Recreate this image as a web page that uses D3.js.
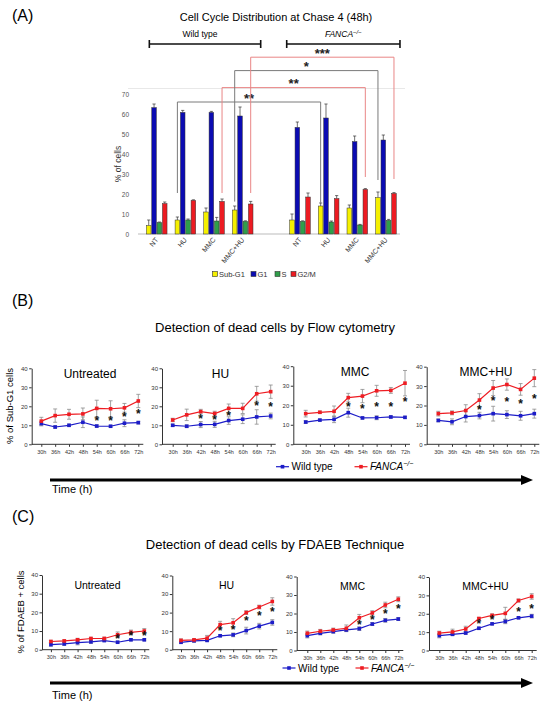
<!DOCTYPE html>
<html><head><meta charset="utf-8">
<script src="https://cdn.jsdelivr.net/npm/d3@7"></script>
<style>
body{margin:0;background:#fff}
svg{display:block;font-family:Arial,"Liberation Sans",Helvetica,sans-serif}
</style>
</head><body>
<svg id="chart" width="550" height="706"></svg>
<script>
// ================= DATA =================
// Panel A: cell cycle distribution (% of cells)
const cycleTreatments = ["NT", "HU", "MMC", "MMC+HU"];
const cyclePhases = ["Sub-G1", "G1", "S", "G2/M"];
const cycleTicks = [0, 10, 20, 30, 40, 50, 60, 70];
const wtSubG1 = [4.2, 7.0, 11.0, 12.0];
const wtSubG1Err = [2.8, 1.5, 2.0, 2.0];
const wtG1 = [63.2, 60.8, 60.8, 59.0];
const wtG1Err = [1.8, 1.0, 0.5, 4.5];
const wtS = [5.7, 7.0, 6.5, 6.3];
const wtSErr = [0.3, 0.5, 1.8, 0.3];
const wtG2M = [15.2, 16.8, 16.3, 15.0];
const wtG2MErr = [0.8, 0.3, 1.2, 1.3];
const faSubG1 = [7.0, 14.0, 13.0, 18.2];
const faSubG1Err = [3.0, 1.5, 1.5, 2.8];
const faG1 = [53.3, 58.0, 46.2, 47.0];
const faG1Err = [2.7, 7.0, 2.8, 2.5];
const faS = [6.3, 6.0, 4.5, 6.8];
const faSErr = [0.3, 0.5, 0.3, 0.5];
const faG2M = [18.5, 17.7, 22.3, 20.3];
const faG2MErr = [2.0, 1.5, 0.4, 0.4];
// significance comparisons (WT vs FANCA-/- same treatment & phase)
const sigLabels = ["**", "**", "*", "***"];
const sigTreatment = [1, 2, 3, 3];
const sigPhase = [0, 3, 0, 3];
const sigTop = [66, 73.2, 81.7, 88.4];
const sigLeftEnd = [20.5, 20.5, 16.2, 20.5];
const sigRightEnd = [15.5, 28.5, 27, 27.5];

// Panels B & C
const timePoints = ["30h", "36h", "42h", "48h", "54h", "60h", "66h", "72h"];
const panelTreatments = ["Untreated", "HU", "MMC", "MMC+HU"];
const lineTicks = [0, 10, 20, 30, 40];

// B: Sub-G1 by flow cytometry  [Untreated, HU, MMC, MMC+HU]
const flowWt = [
  [10.9, 9.1, 10.0, 11.6, 9.6, 9.5, 11.1, 11.4],
  [10.0, 9.5, 10.4, 10.5, 12.5, 13.2, 14.4, 14.9],
  [11.4, 12.4, 12.8, 16.2, 13.5, 13.6, 14.0, 13.8],
  [12.3, 11.6, 14.3, 14.8, 15.8, 15.3, 14.7, 15.8]
];
const flowWtErr = [
  [1.2, 0.6, 0.6, 2.8, 0.6, 0.5, 1.8, 0.7],
  [0.6, 0.7, 1.6, 1.6, 2.0, 2.3, 3.8, 1.5],
  [0.7, 0.5, 1.7, 2.3, 0.5, 1.0, 0.6, 0.5],
  [0.7, 1.5, 2.8, 1.7, 3.8, 2.0, 2.3, 2.3]
];
const flowFa = [
  [12.2, 15.1, 15.8, 16.0, 18.9, 18.7, 19.2, 22.8],
  [12.8, 15.5, 17.2, 16.2, 18.9, 18.9, 26.6, 27.7],
  [15.7, 16.4, 16.9, 23.9, 24.7, 27.4, 27.6, 31.3],
  [15.8, 16.2, 17.4, 22.8, 29.0, 30.8, 28.3, 34.1]
];
const flowFaErr = [
  [2.0, 3.5, 2.6, 3.1, 4.3, 4.2, 2.3, 3.5],
  [0.9, 3.0, 1.2, 1.2, 2.3, 2.7, 3.9, 3.5],
  [1.7, 0.6, 2.7, 2.2, 3.4, 2.8, 1.5, 6.5],
  [1.2, 1.0, 3.0, 3.3, 3.9, 2.9, 3.0, 4.4]
];
const flowStarTimes = [
  ["54h", "60h", "66h", "72h"],
  ["42h", "48h", "54h", "66h", "72h"],
  ["48h", "54h", "60h", "66h", "72h"],
  ["48h", "54h", "60h", "66h", "72h"]
];
const flowStarValues = [
  [13.6, 13.6, 15.8, 17.7],
  [15.1, 14.4, 16.5, 21.6, 21.4],
  [20.8, 19.4, 20.6, 20.6, 23.3],
  [19.3, 23.7, 23.2, 22.3, 25.0]
];

// C: FDAEB+ cells
const fdaebWt = [
  [2.7, 3.1, 3.8, 4.2, 4.9, 4.0, 5.3, 5.3],
  [4.0, 4.8, 5.0, 7.5, 8.0, 10.3, 12.7, 14.7],
  [8.0, 9.3, 10.2, 11.1, 11.8, 14.3, 16.3, 17.0],
  [8.1, 8.8, 9.5, 12.1, 14.5, 15.8, 17.8, 18.7]
];
const fdaebWtErr = [
  [0.8, 0.8, 1.2, 0.8, 0.6, 0.5, 0.5, 0.5],
  [0.6, 0.8, 0.5, 0.5, 1.0, 1.8, 1.5, 1.5],
  [1.2, 0.8, 0.8, 0.6, 1.0, 0.8, 1.0, 0.8],
  [1.2, 0.6, 0.6, 0.6, 0.5, 1.2, 0.5, 1.0]
];
const fdaebFa = [
  [4.4, 4.7, 5.3, 6.0, 6.0, 8.0, 9.3, 10.0],
  [5.0, 5.3, 6.2, 13.5, 14.5, 20.0, 23.0, 26.0],
  [9.3, 10.4, 11.1, 12.0, 17.7, 20.3, 24.6, 27.7],
  [9.5, 10.1, 11.7, 17.4, 19.1, 20.2, 27.2, 29.4]
];
const fdaebFaErr = [
  [0.6, 0.5, 0.8, 0.6, 0.7, 1.5, 1.2, 1.3],
  [0.8, 0.6, 1.5, 1.8, 2.2, 1.0, 1.0, 2.0],
  [1.2, 1.0, 1.0, 1.8, 1.8, 1.2, 1.5, 1.3],
  [1.0, 1.5, 1.5, 0.6, 0.8, 3.3, 0.8, 1.5]
];
const fdaebStarTimes = [
  ["60h", "66h", "72h"],
  ["48h", "54h", "60h", "66h", "72h"],
  ["54h", "60h", "66h", "72h"],
  ["48h", "54h", "66h", "72h"]
];
const fdaebStarValues = [
  [7.2, 8.8, 8.8],
  [11.5, 12.0, 17.0, 19.5, 21.7],
  [15.5, 18.3, 21.6, 23.8],
  [16.3, 18.0, 22.8, 24.4]
];

// ================= DRAWING =================
const svg = d3.select("#chart");
const phaseColors = ["#f5f000", "#0b0bb2", "#2f9e4a", "#ec1b22"];
const BLUE = "#1d1dc8", RED = "#ee1d23", ERR = "#8c8c8c", AX = "#333";

function starY(y, size) { return y + size * 0.58; }

// ---------- Panel A ----------
svg.append("text").attr("x", 12).attr("y", 21).attr("font-size", 16).text("(A)");
svg.append("text").attr("x", 276).attr("y", 21).attr("font-size", 11)
  .attr("text-anchor", "middle").text("Cell Cycle Distribution at Chase 4 (48h)");

const slots = d3.range(9); // 4 WT groups, gap, 4 FANCA groups
const xA = d3.scaleBand().domain(slots).range([142.4, 400.3]);
const xIn = d3.scaleBand().domain(d3.range(4)).range([-10.3, 10.3]).paddingInner(0.14);
const yA = d3.scaleLinear().domain([0, 70]).range([234, 94]);
const slotCenter = s => xA(s) + xA.bandwidth() / 2;
const wtVals = [wtSubG1, wtG1, wtS, wtG2M], wtErrs = [wtSubG1Err, wtG1Err, wtSErr, wtG2MErr];
const faVals = [faSubG1, faG1, faS, faG2M], faErrs = [faSubG1Err, faG1Err, faSErr, faG2MErr];

const bars = [];
[[wtVals, wtErrs, 0], [faVals, faErrs, 5]].forEach(([vals, errs, off]) => {
  cycleTreatments.forEach((t, ti) => {
    cyclePhases.forEach((p, pi) => {
      bars.push({ slot: ti + off, phase: pi, v: vals[pi][ti], e: errs[pi][ti] });
    });
  });
});

// faint frame top line
svg.append("line").attr("x1", 128).attr("x2", 405).attr("y1", 88.5).attr("y2", 88.5)
  .attr("stroke", "#e8e8e8").attr("stroke-width", 1);

// y axis labels
const gyA = svg.append("g").attr("transform", "translate(131,0)")
  .call(d3.axisLeft(yA).tickValues(cycleTicks).tickSize(0).tickPadding(2));
gyA.select(".domain").remove();
gyA.selectAll("text").attr("font-size", 6.5).attr("fill", "#555").attr("font-family", null);
svg.append("text").attr("transform", "translate(121,164) rotate(-90)")
  .attr("text-anchor", "middle").attr("font-size", 8.5).attr("fill", "#333").text("% of cells");

// baseline
svg.append("line").attr("x1", 138).attr("x2", 400).attr("y1", yA(0)).attr("y2", yA(0))
  .attr("stroke", "#aaa").attr("stroke-width", 0.8);

// error bars (upper only)
const gA = svg.append("g");
bars.forEach(b => {
  const cx = slotCenter(b.slot) + xIn(b.phase) + xIn.bandwidth() / 2;
  gA.append("line").attr("x1", cx).attr("x2", cx).attr("y1", yA(b.v)).attr("y2", yA(b.v + b.e))
    .attr("stroke", "#333").attr("stroke-width", 0.7);
  gA.append("line").attr("x1", cx - 1.6).attr("x2", cx + 1.6).attr("y1", yA(b.v + b.e)).attr("y2", yA(b.v + b.e))
    .attr("stroke", "#333").attr("stroke-width", 0.7);
});
gA.selectAll("rect.bar").data(bars).join("rect").attr("class", "bar")
  .attr("x", d => slotCenter(d.slot) + xIn(d.phase))
  .attr("width", xIn.bandwidth())
  .attr("y", d => yA(d.v)).attr("height", d => yA(0) - yA(d.v))
  .attr("fill", d => phaseColors[d.phase]).attr("stroke", "#333").attr("stroke-width", 0.5);

// category labels
slots.forEach(s => {
  const lab = s < 4 ? cycleTreatments[s] : (s > 4 ? cycleTreatments[s - 5] : null);
  if (!lab) return;
  svg.append("text").attr("transform", `translate(${slotCenter(s) + 2},240) rotate(-50)`)
    .attr("text-anchor", "end").attr("font-size", 7).attr("fill", "#333").text(lab);
});

// legend A
const legAX = [212.5, 251, 275, 291];
cyclePhases.forEach((p, i) => {
  svg.append("rect").attr("x", legAX[i]).attr("y", 271.5).attr("width", 5).attr("height", 5)
    .attr("fill", phaseColors[i]).attr("stroke", "#333").attr("stroke-width", 0.6);
  svg.append("text").attr("x", legAX[i] + 6.5).attr("y", 276.8).attr("font-size", 7.5)
    .attr("fill", "#333").text(p);
});

// significance brackets
sigLabels.forEach((lab, i) => {
  const bx = (slot, ph) => slotCenter(slot) + xIn(ph) + xIn.bandwidth() / 2;
  const x1 = bx(sigTreatment[i], sigPhase[i]), x2 = bx(sigTreatment[i] + 5, sigPhase[i]);
  const col = sigPhase[i] === 3 ? "#e98686" : "#7a7a7a";
  svg.append("path")
    .attr("d", `M${x1},${yA(sigLeftEnd[i])}V${yA(sigTop[i])}H${x2}V${yA(sigRightEnd[i])}`)
    .attr("fill", "none").attr("stroke", col).attr("stroke-width", 1);
  svg.append("text").attr("x", (x1 + x2) / 2).attr("y", yA(sigTop[i]) + 0.5)
    .attr("text-anchor", "middle").attr("font-size", 13).attr("font-weight", "bold")
    .attr("fill", "#222").text(lab);
});

// genotype brackets
const grpBr = [
  { x1: slotCenter(0) - 7.4, x2: slotCenter(3) + 18, label: "Wild type", italic: false },
  { x1: slotCenter(5) - 13.3, x2: slotCenter(8) + 14, label: "FANCA", italic: true }
];
grpBr.forEach(b => {
  svg.append("path").attr("d", `M${b.x1},40V48M${b.x1},44H${b.x2}M${b.x2},40V48`)
    .attr("stroke", "#111").attr("stroke-width", 1.6).attr("fill", "none");
  const t = svg.append("text").attr("x", (b.x1 + b.x2) / 2 + (b.italic ? 0 : -5)).attr("y", 37)
    .attr("text-anchor", "middle").attr("font-size", 8.5);
  if (b.italic) {
    t.append("tspan").attr("font-style", "italic").text(b.label);
    t.append("tspan").attr("font-style", "italic").attr("font-size", 6).attr("dy", -3.5).text("\u2212/\u2212");
  } else t.text(b.label);
});

// ---------- Panels B & C ----------
function header(letter, title, yLetter, yTitle) {
  svg.append("text").attr("x", 12).attr("y", yLetter).attr("font-size", 16).text(letter);
  svg.append("text").attr("x", 275).attr("y", yTitle).attr("font-size", 13)
    .attr("text-anchor", "middle").text(title);
}

function subplot(L, wt, wtE, fa, faE, starT, starV, title, titleSize, titleY) {
  const g = svg.append("g");
  const x = d3.scalePoint().domain(timePoints).range([L.x30, L.x72]);
  const y = d3.scaleLinear().domain([0, 40]).range([L.y0, L.y40]);
  const ya = g.append("g").attr("transform", `translate(${L.ax},0)`)
    .call(d3.axisLeft(y).tickValues(lineTicks).tickSize(2.5).tickSizeOuter(0).tickPadding(1.5));
  ya.selectAll("text").attr("font-size", 6).attr("fill", "#333").attr("font-family", null);
  ya.selectAll("line,path").attr("stroke", AX);
  const xa = g.append("g").attr("transform", `translate(0,${L.y0})`)
    .call(d3.axisBottom(x).tickSize(2.5).tickPadding(3));
  xa.select(".domain").remove();
  xa.selectAll("text").attr("font-size", 5.5).attr("fill", "#333").attr("font-family", null);
  xa.selectAll("line").attr("stroke", AX);
  g.append("line").attr("x1", L.ax).attr("x2", L.x72 + 5).attr("y1", L.y0).attr("y2", L.y0)
    .attr("stroke", AX).attr("stroke-width", 1);

  g.append("text").attr("x", L.tx).attr("y", titleY).attr("text-anchor", "middle")
    .attr("font-size", titleSize).text(title);

  [[wt, wtE], [fa, faE]].forEach(([vals, errs]) => {
    vals.forEach((v, i) => {
      const cx = x(timePoints[i]);
      g.append("line").attr("x1", cx).attr("x2", cx).attr("y1", y(v - errs[i])).attr("y2", y(v + errs[i]))
        .attr("stroke", ERR).attr("stroke-width", 0.8);
      [v - errs[i], v + errs[i]].forEach(ev =>
        g.append("line").attr("x1", cx - 2).attr("x2", cx + 2).attr("y1", y(ev)).attr("y2", y(ev))
          .attr("stroke", ERR).attr("stroke-width", 0.8));
    });
  });
  const line = d3.line().x((d, i) => x(timePoints[i])).y(d => y(d));
  [[wt, BLUE], [fa, RED]].forEach(([vals, col]) => {
    g.append("path").datum(vals).attr("d", line).attr("fill", "none")
      .attr("stroke", col).attr("stroke-width", 1.2);
    g.selectAll(null).data(vals).join("rect")
      .attr("x", (d, i) => x(timePoints[i]) - 1.8).attr("y", d => y(d) - 1.8)
      .attr("width", 3.6).attr("height", 3.6).attr("fill", col);
  });
  starT.forEach((t, i) => {
    g.append("text").attr("x", x(t)).attr("y", starY(y(starV[i]), 12)).attr("text-anchor", "middle")
      .attr("font-size", 12).attr("font-weight", "bold").attr("fill", "#111").text("*");
  });
}

function legendAndArrow(yLeg, blueX, redX, yArrow, yTime) {
  [[blueX, BLUE, "Wild type", false], [redX, RED, "FANCA", true]].forEach(([lx, col, lab, it]) => {
    svg.append("line").attr("x1", lx - 6.5).attr("x2", lx + 6.5).attr("y1", yLeg).attr("y2", yLeg)
      .attr("stroke", col).attr("stroke-width", 1.2);
    svg.append("rect").attr("x", lx - 1.8).attr("y", yLeg - 1.8).attr("width", 3.6).attr("height", 3.6).attr("fill", col);
    const t = svg.append("text").attr("x", lx + 9).attr("y", yLeg + 3.5).attr("font-size", 10);
    if (it) {
      t.append("tspan").attr("font-style", "italic").text(lab);
      t.append("tspan").attr("font-style", "italic").attr("font-size", 7).attr("dy", -4).text("\u2212/\u2212");
    } else t.text(lab);
  });
  svg.append("line").attr("x1", 50).attr("x2", 523).attr("y1", yArrow).attr("y2", yArrow)
    .attr("stroke", "#000").attr("stroke-width", 3);
  svg.append("path").attr("d", `M521,${yArrow - 5}L533,${yArrow}L521,${yArrow + 5}Z`).attr("fill", "#000");
  svg.append("text").attr("x", 52).attr("y", yTime).attr("font-size", 11).text("Time (h)");
}

// Panel B
header("(B)", "Detection of dead cells by Flow cytometry", 306, 332);
const layB = [
  { ax: 31.7, x30: 41.3, x72: 138.3, y0: 444.3, y40: 368.3, tx: 90 },
  { ax: 162, x30: 172.7, x72: 270.7, y0: 444.3, y40: 368.3, tx: 220.5 },
  { ax: 293.3, x30: 305.7, x72: 405, y0: 444.3, y40: 366.2, tx: 355 },
  { ax: 426.7, x30: 438.3, x72: 534.3, y0: 444.3, y40: 366.7, tx: 486 }
];
panelTreatments.forEach((t, i) =>
  subplot(layB[i], flowWt[i], flowWtErr[i], flowFa[i], flowFaErr[i], flowStarTimes[i], flowStarValues[i], t, 12, i < 2 ? 378 : 376));
svg.append("text").attr("transform", "translate(13,406) rotate(-90)").attr("text-anchor", "middle")
  .attr("font-size", 9.5).text("% of Sub-G1 cells");
legendAndArrow(466.7, 282.5, 361, 480, 493);

// Panel C
header("(C)", "Detection of dead cells by FDAEB Technique", 522, 549);
const layC = [
  { ax: 42, x30: 50.9, x72: 144.3, y0: 649.7, y40: 575, tx: 97.5 },
  { ax: 172.3, x30: 181, x72: 272.3, y0: 649.7, y40: 575.5, tx: 226.5 },
  { ax: 296.7, x30: 307.3, x72: 398.3, y0: 650.5, y40: 576.5, tx: 352.5 },
  { ax: 429, x30: 439.3, x72: 531.7, y0: 650.5, y40: 577, tx: 485.5 }
];
panelTreatments.forEach((t, i) =>
  subplot(layC[i], fdaebWt[i], fdaebWtErr[i], fdaebFa[i], fdaebFaErr[i], fdaebStarTimes[i], fdaebStarValues[i], t, 10.5, i < 2 ? 589 : 590));
svg.append("text").attr("transform", "translate(24,612) rotate(-90)").attr("text-anchor", "middle")
  .attr("font-size", 9.5).text("% of FDAEB + cells");
legendAndArrow(668, 289, 362, 683, 699);
</script>
</body></html>
